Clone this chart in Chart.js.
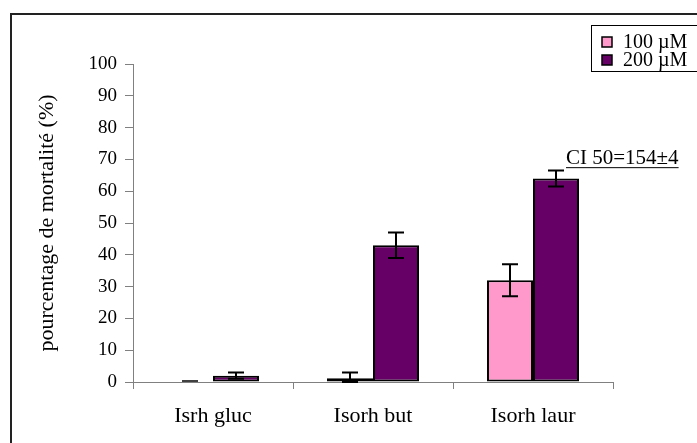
<!DOCTYPE html>
<html>
<head>
<meta charset="utf-8">
<script src="https://cdn.jsdelivr.net/npm/chart.js@4/dist/chart.umd.min.js"></script>
<style>
html,body{margin:0;padding:0;background:#fff;}
#wrap{width:697px;height:443px;position:relative;}
</style>
</head>
<body>
<div id="wrap"><canvas id="c" width="697" height="443"></canvas></div>
<script>
const categories = ["Isrh gluc", "Isorh but", "Isorh laur"];
const seriesLabels = ["100 µM", "200 µM"];
const values100 = [0, 1.2, 32];
const values200 = [2, 43, 64];
const err100 = [0, 1.8, 5];
const err200 = [1, 4, 2.5];
const yTicks = [0, 10, 20, 30, 40, 50, 60, 70, 80, 90, 100];
const annotationText = "CI 50=154±4";
const yTitle = "pourcentage de mortalité (%)";

const FONT = "'Liberation Serif', 'Times New Roman', serif";
const colors = ["#FF99CC", "#660066"];

const frame = {
  id: 'frame',
  beforeDraw(chart) {
    const ctx = chart.ctx;
    ctx.save();
    ctx.fillStyle = '#fff';
    ctx.fillRect(0, 0, chart.width, chart.height);
    ctx.strokeStyle = '#222';
    ctx.lineWidth = 2;
    ctx.beginPath();
    ctx.moveTo(11, chart.height);
    ctx.lineTo(11, 14);
    ctx.lineTo(chart.width, 14);
    ctx.stroke();
    ctx.restore();
  }
};

const errorBars = {
  id: 'errorBars',
  afterDatasetsDraw(chart) {
    const ctx = chart.ctx;
    const y = chart.scales.y;
    const errs = [err100, err200];
    ctx.save();
    ctx.strokeStyle = '#000';
    ctx.lineWidth = 2;
    chart.data.datasets.forEach((ds, di) => {
      const meta = chart.getDatasetMeta(di);
      meta.data.forEach((bar, i) => {
        const e = errs[di][i];
        if (!e) return;
        const v = ds.data[i];
        const x = bar.x;
        const yt = y.getPixelForValue(v + e);
        const yb = y.getPixelForValue(Math.max(0, v - e));
        ctx.beginPath();
        ctx.moveTo(x, yt); ctx.lineTo(x, yb);
        ctx.moveTo(x - 8, yt); ctx.lineTo(x + 8, yt);
        ctx.moveTo(x - 8, yb); ctx.lineTo(x + 8, yb);
        ctx.stroke();
      });
    });
    chart.data.datasets.forEach((ds, di) => {
      const meta = chart.getDatasetMeta(di);
      meta.data.forEach((bar, i) => {
        if (ds.data[i] === 0) {
          const yy = y.getPixelForValue(0) - 1;
          ctx.lineWidth = 1.5;
          ctx.beginPath();
          ctx.moveTo(bar.x - 8, yy);
          ctx.lineTo(bar.x + 8, yy);
          ctx.stroke();
        }
      });
    });
    // annotation
    const meta = chart.getDatasetMeta(1);
    const bar = meta.data[2];
    const tx = bar.x + 10;
    const ty = y.getPixelForValue(68.5);
    ctx.font = "21px " + FONT;
    ctx.fillStyle = '#000';
    ctx.textBaseline = 'alphabetic';
    ctx.textAlign = 'left';
    ctx.fillText(annotationText, tx, ty);
    const w = ctx.measureText(annotationText).width;
    ctx.lineWidth = 1;
    ctx.beginPath();
    ctx.moveTo(tx, ty + 3.5); ctx.lineTo(tx + w, ty + 3.5);
    ctx.stroke();
    // legend
    const lx = 591, ly = 25;
    ctx.strokeStyle = '#000';
    ctx.lineWidth = 1;
    ctx.strokeRect(lx + 0.5, ly + 0.5, chart.width, 46);
    ctx.font = "20px " + FONT;
    chart.data.datasets.forEach((ds, di) => {
      const cy = ly + 17 + di * 18;
      ctx.fillStyle = ds.backgroundColor;
      ctx.fillRect(lx + 11, cy - 5, 10, 10);
      ctx.lineWidth = 1.5;
      ctx.strokeRect(lx + 11, cy - 5, 10, 10);
      ctx.fillStyle = '#000';
      ctx.textBaseline = 'middle';
      ctx.fillText(ds.label, lx + 32, cy + 1);
    });
    ctx.restore();
  }
};

new Chart(document.getElementById('c'), {
  type: 'bar',
  data: {
    labels: categories,
    datasets: [
      { label: seriesLabels[0], data: values100, backgroundColor: colors[0], borderColor: '#000', borderWidth: 2, borderSkipped: false },
      { label: seriesLabels[1], data: values200, backgroundColor: colors[1], borderColor: '#000', borderWidth: 2, borderSkipped: false }
    ]
  },
  options: {
    responsive: false,
    animation: false,
    events: [],
    layout: { padding: { left: 34, right: 84, top: 64, bottom: 6 } },
    plugins: { legend: { display: false }, tooltip: { enabled: false } },
    datasets: { bar: { categoryPercentage: 0.575, barPercentage: 1 } },
    scales: {
      x: {
        grid: { display: true, drawOnChartArea: false, offset: true, tickLength: 7, color: '#808080' },
        border: { color: '#808080', width: 1 },
        ticks: { color: '#000', font: { family: FONT, size: 22 }, padding: 14, maxRotation: 0 },
        afterFit(s) { s.height = 55; }
      },
      y: {
        min: 0, max: 100,
        afterBuildTicks(s) { s.ticks = yTicks.map(v => ({ value: v })); },
        grid: { display: true, drawOnChartArea: false, tickLength: 8, color: '#808080' },
        border: { color: '#808080', width: 1 },
        ticks: { color: '#000', font: { family: FONT, size: 19 }, padding: 8 },
        title: { display: true, text: yTitle, color: '#000', font: { family: FONT, size: 22 }, padding: { top: 0, bottom: 4 } },
        afterFit(s) { s.width = 99; }
      }
    }
  },
  plugins: [frame, errorBars]
});
</script>
</body>
</html>
